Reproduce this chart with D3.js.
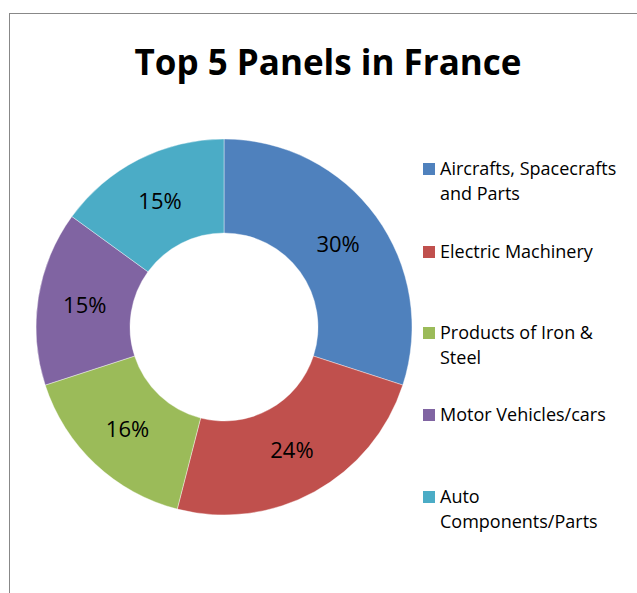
<!DOCTYPE html>
<html>
<head>
<meta charset="utf-8">
<script src="https://cdn.jsdelivr.net/npm/d3@7"></script>
<style>
  body { margin: 0; background: #fff; }
  svg { display: block; }
</style>
</head>
<body>
<div id="chart"></div>
<script>
// dữ liệu
const categories = ["Aircrafts, Spacecrafts and Parts", "Electric Machinery", "Products of Iron & Steel", "Motor Vehicles/cars", "Auto Components/Parts"];
const legendLines = [["Aircrafts, Spacecrafts", "and Parts"], ["Electric Machinery"], ["Products of Iron &", "Steel"], ["Motor Vehicles/cars"], ["Auto", "Components/Parts"]];
const values = [30, 24, 16, 15, 15];
const colors = ["#4F81BD", "#C0504D", "#9BBB59", "#8064A2", "#4BACC6"];

const width = 637, height = 593;
const font = "'Open Sans', 'Liberation Sans', sans-serif";

const svg = d3.select("#chart").append("svg")
    .attr("width", width)
    .attr("height", height)
    .style("font-family", font);

// khung biểu đồ
svg.append("rect")
    .attr("x", 9.5).attr("y", 13.5)
    .attr("width", 700).attr("height", 700)
    .attr("fill", "none")
    .attr("stroke", "#888")
    .attr("stroke-width", 1);

// tiêu đề
svg.append("text")
    .attr("x", 328).attr("y", 75)
    .attr("text-anchor", "middle")
    .style("font-size", "35px")
    .style("font-weight", "bold")
    .text("Top 5 Panels in France");

const cx = 224, cy = 327, rOuter = 188, rInner = 94;
const g = svg.append("g").attr("transform", `translate(${cx},${cy})`);

const pie = d3.pie().sort(null).value(d => d)(values);
const arc = d3.arc().innerRadius(rInner).outerRadius(rOuter);

g.selectAll("path.slice")
    .data(pie)
    .enter()
    .append("path")
    .attr("class", "slice")
    .attr("d", arc)
    .attr("fill", (d, i) => colors[i])
    .attr("stroke", "#fff")
    .attr("stroke-width", 0.4);

const total = d3.sum(values);
g.selectAll("text.label")
    .data(pie)
    .enter()
    .append("text")
    .attr("class", "label")
    .attr("transform", d => `translate(${arc.centroid(d)})`)
    .attr("text-anchor", "middle")
    .attr("dy", "0.35em")
    .style("font-size", "22px")
    .text(d => d3.format(".0%")(d.value / total));

// chú thích
const legendY = [169, 252, 333, 415, 497];
const legend = svg.append("g");
legendLines.forEach((lines, i) => {
    legend.append("rect")
        .attr("x", 423).attr("y", legendY[i] - 6)
        .attr("width", 12).attr("height", 12)
        .attr("fill", colors[i]);
    const t = legend.append("text")
        .attr("x", 440).attr("y", legendY[i])
        .style("font-size", "18px");
    lines.forEach((ln, j) => {
        t.append("tspan")
            .attr("x", 440)
            .attr("dy", j === 0 ? "0.35em" : "25")
            .text(ln);
    });
});
</script>
</body>
</html>
